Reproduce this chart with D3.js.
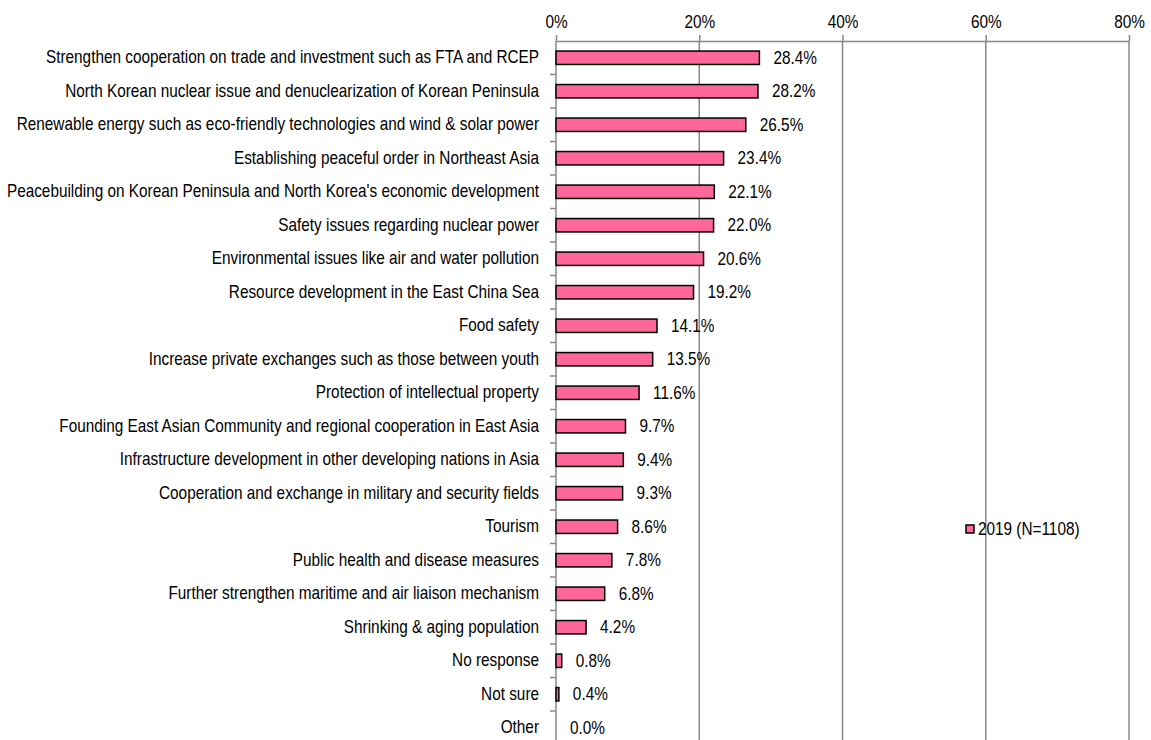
<!DOCTYPE html>
<html><head><meta charset="utf-8">
<script src="https://cdn.jsdelivr.net/npm/d3@7"></script>
<style>body{margin:0;background:#fff}svg{display:block}text{font-family:"Liberation Sans",Arial,sans-serif;fill:#000}</style>
</head><body>
<svg id="c" width="1151" height="740"></svg>
<script>
const categories = [
"Strengthen cooperation on trade and investment such as FTA and RCEP",
"North Korean nuclear issue and denuclearization of Korean Peninsula",
"Renewable energy such as eco-friendly technologies and wind & solar power",
"Establishing peaceful order in Northeast Asia",
"Peacebuilding on Korean Peninsula and North Korea's economic development",
"Safety issues regarding nuclear power",
"Environmental issues like air and water pollution",
"Resource development in the East China Sea",
"Food safety",
"Increase private exchanges such as those between youth",
"Protection of intellectual property",
"Founding East Asian Community and regional cooperation in East Asia",
"Infrastructure development in other developing nations in Asia",
"Cooperation and exchange in military and security fields",
"Tourism",
"Public health and disease measures",
"Further strengthen maritime and air liaison mechanism",
"Shrinking & aging population",
"No response",
"Not sure",
"Other"];
const values = [28.4,28.2,26.5,23.4,22.1,22.0,20.6,19.2,14.1,13.5,11.6,9.7,9.4,9.3,8.6,7.8,6.8,4.2,0.8,0.4,0.0];
const xTicks = [0,20,40,60,80];
const seriesName = "2019 (N=1108)";

const FONT = '"Liberation Sans",Arial,sans-serif';
const FS = 17.5, SX = 0.877;
function squeeze(sel){
  sel.each(function(){
    const t = d3.select(this);
    const xv = +(t.attr("x")||0);
    t.attr("x", xv/SX).attr("transform", `scale(${SX},1)`);
  });
}
const svg = d3.select("#c");
const x0 = 556, x1 = 1129, yTop = 41, step = 33.5;
const x = d3.scaleLinear().domain([0,80]).range([x0,x1]);
const y = d3.scaleBand().domain(categories).range([yTop, yTop+step*categories.length]).paddingInner(0.6).paddingOuter(0.3);

// gridlines
svg.append("g").selectAll("line").data(xTicks.filter(d=>d>0)).join("line")
  .attr("x1",d=>x(d)).attr("x2",d=>x(d)).attr("y1",yTop).attr("y2",740)
  .attr("stroke","#888").attr("stroke-width",1.5);

// top axis
const ax = svg.append("g").attr("transform",`translate(0,${yTop})`)
  .call(d3.axisTop(x).tickValues(xTicks).tickFormat(d=>d+"%").tickSize(6).tickSizeOuter(0));
ax.select(".domain").attr("stroke","#888").attr("stroke-width",1.5);
ax.selectAll(".tick line").attr("stroke","#888").attr("stroke-width",1.5);
ax.selectAll(".tick text").attr("font-size",FS).attr("dy","-0.25em").attr("font-family",FONT).attr("fill","#000").call(squeeze);

// left axis
const ay = svg.append("g").attr("transform",`translate(${x0},0)`)
  .call(d3.axisLeft(y).tickSize(0).tickPadding(17));
ay.select(".domain").remove();
ay.selectAll(".tick text").attr("font-size",FS).attr("font-family",FONT).attr("fill","#000").call(squeeze);
svg.append("line").attr("x1",x0).attr("x2",x0).attr("y1",yTop).attr("y2",740).attr("stroke","#888").attr("stroke-width",1.5);
// category boundary ticks
const bounds = d3.range(1,categories.length).map(i=>yTop+i*step);
svg.append("g").selectAll("line").data(bounds).join("line")
  .attr("x1",x0-6).attr("x2",x0).attr("y1",d=>d).attr("y2",d=>d).attr("stroke","#888").attr("stroke-width",1.5);

// bars
svg.append("g").selectAll("rect").data(values).join("rect")
  .attr("x",x(0)).attr("y",(d,i)=>y(categories[i]))
  .attr("width",d=>x(d)-x(0)).attr("height",y.bandwidth())
  .attr("fill","#FF6699").attr("stroke","#000").attr("stroke-width",1.5)
  .attr("visibility",d=>d>0?"visible":"hidden");

// value labels
svg.append("g").selectAll("text").data(values).join("text")
  .attr("x",d=>x(d)+14).attr("y",(d,i)=>y(categories[i])+y.bandwidth()/2)
  .attr("dy","0.35em").attr("font-size",FS).text(d=>d.toFixed(1)+"%").call(squeeze);

// legend
const lg = svg.append("g").attr("transform","translate(966,525)");
lg.append("rect").attr("x",0).attr("y",0).attr("width",8).attr("height",8).attr("fill","#FF6699").attr("stroke","#000").attr("stroke-width",1.5);
lg.append("text").attr("x",12).attr("y",4).attr("dy","0.35em").attr("font-size",FS).text(seriesName).call(squeeze);
</script>
</body></html>
